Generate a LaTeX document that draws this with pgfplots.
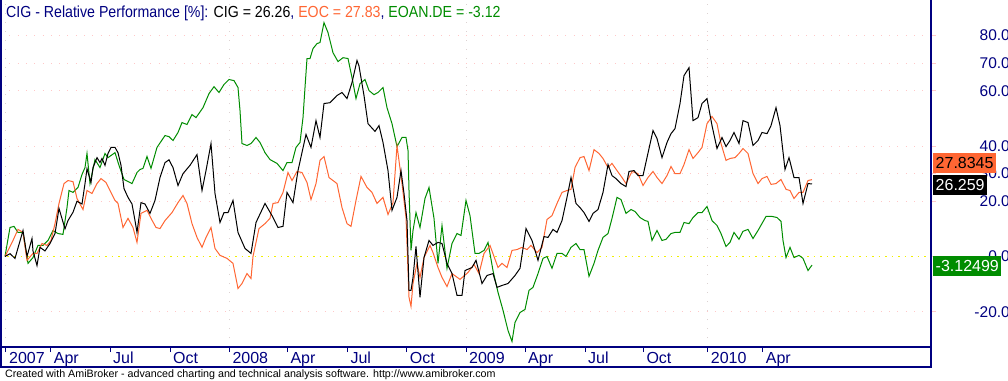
\documentclass[border=0pt]{standalone}
\usepackage{fontspec}
\setmainfont{Liberation Sans}
\newfontfamily\titlefont[FakeStretch=0.885]{Liberation Sans}
\usepackage{pgfplots}
\usepackage{pgfplotstable}
\pgfplotsset{compat=1.18}
\definecolor{navy}{RGB}{0,0,128}
\definecolor{eoc}{RGB}{255,102,51}
\definecolor{eoan}{RGB}{0,140,0}
\definecolor{gridpink}{RGB}{255,200,200}
\definecolor{gridgray}{RGB}{220,210,210}
\definecolor{zeroyellow}{RGB}{240,240,0}

% x = chart position (pixel column), y = relative performance [%]
\pgfplotstableread{
x y
5 0
10 1
15 -0.7
23 9.4
27 0
32 6.5
33 2
37 -3.3
40 3.3
45 2
50 4.7
55 8.3
59 17.4
65 10
68 13
73 16
77 20
82 19
85 26.4
87 31.8
91 26.8
93 32.2
97 35.8
100 34
102 35.5
105 33
108 37.3
111 39.5
115 39.5
118 37.6
121 33
124 24.6
128 21.4
132 19
135 13
137 8.7
141 19.5
145 19
150 15.6
155 20.3
160 28.6
165 34
169 35
173 32.2
178 25.7
183 30
190 33
197 36.9
202 23.9
206 31.1
211 40.9
215 22.8
220 12.3
224 15.9
228 15.9
233 20.3
238 8.7
245 2.9
251 1.1
256 12.3
265 19.2
272 14.8
278 10.5
283 10.9
287 23.2
293 19.5
298 31.1
306 44.2
311 39.5
316 49.2
320 43.1
324 55.4
330 55.7
337 58.3
342 59.4
347 57.2
352 63
357 71
359 69
364 58.3
368 48.1
375 45.3
379 47.4
383 41.3
388 31.1
392 16.7
397 21.4
401 31.1
404 22.8
407 13
409 -12.3
411 -12.3
413 -7.6
416 3.6
420 -14.8
424 -0.4
429 5.8
433 4
438 5.1
442 4.7
447 -2.5
452 -6.2
457 -14.1
462 -14.1
465 -5.1
472 -4
476 -1.4
482 -9.8
487 -6.9
493 -6.2
497 -11.2
502 -10.5
508 -9.8
515 -6.9
520 -4.3
526 10.1
532 5.8
538 -1.4
544 7.2
548 6.9
553 9.8
557 8.7
562 13
567 21.4
571 28.6
576 19.2
580 17.7
584 15.9
589 12.7
593 15.6
598 17
603 23.2
608 33.3
612 29.3
616 28.2
621 26.4
626 25.3
629 30.8
634 31.1
638 29.3
643 29.3
647 35.8
653 45.6
657 42.7
662 35.8
667 41.3
671 44.5
675 46.3
680 55.4
684 65.5
689 68.4
693 49.2
698 50.3
702 55.4
707 57.2
712 47.4
717 39.1
722 43.1
726 39.8
730 42
734 44.9
739 40.9
743 49.2
748 48.5
753 40.2
758 42
762 44.9
767 44.5
771 47.4
776 53.9
780 47.4
785 31.5
789 35.8
794 28.6
799 28.6
803 19.2
808 26.4
812 26.26
}\cig

\pgfplotstableread{
x y
5 0
13 5.8
18 9.8
23 8.7
27 -1.4
33 1.1
37 1.1
42 4.7
47 4
51 5.8
55 11.9
59 19.2
64 26.4
68 27.5
73 27.1
77 21
83 17
87 23.9
92 22.8
97 26.4
101 28.2
106 26.8
110 23.9
115 20.3
118 19.2
123 10.5
128 13.8
133 10.5
137 5.1
141 15.6
147 16.7
151 13.8
156 10.5
160 10.1
165 13
172 15.9
178 19.5
183 22.1
187 19.2
192 11.9
197 6.9
202 3.3
206 6.9
211 10.5
215 2.9
220 0.4
227 -0.7
233 -2.5
238 -11.6
242 -9.8
247 -6.2
251 -8
253 0
259 10.1
265 11.9
270 13.8
273 19.2
278 19.5
283 23.2
288 30.4
292 27.5
297 30.8
302 30.4
307 26.8
311 20.6
316 26.4
320 34.8
324 36.2
329 28.6
337 26.4
342 17.7
347 11.9
351 10.9
356 20.3
361 29
367 25
372 23.2
377 19.2
383 21.4
388 15.2
393 19.5
397 40.2
402 26.4
406 14.1
409 -14.8
411 -18.1
413 -9.8
417 -2.5
420 -7.6
424 -0.4
430 4
433 1.4
438 -4
442 -7.6
447 -10.9
452 -6.2
460 -8.3
468 -5.8
474 -2.9
479 -6.2
484 1.1
490 4
498 -4
502 -2.5
507 -4
512 2.2
517 2.5
522 3.3
527 2.5
531 4
537 1.4
542 3.3
547 13.4
552 14.8
557 19.2
562 23.2
567 23.9
571 24.3
575 32.2
580 35.8
584 36.2
589 31.1
594 38.7
599 37.3
603 35.5
608 32.2
612 33.7
617 31.1
622 28.6
626 26.4
632 30.8
638 30
643 25.7
648 28.6
653 30.8
657 28.6
662 26.4
667 29.3
671 32.6
675 30
680 30
684 33.3
689 38.7
693 35.5
698 37.6
702 39.5
707 48.1
712 50.7
717 48.1
721 40.9
726 34.8
730 35.5
735 35.8
739 37.3
743 39.1
748 37.3
753 30
758 26.4
762 28.2
767 29
771 26.1
776 26.4
781 27.9
786 24.3
790 23.9
794 21
799 23.2
803 23.2
808 27.5
812 27.83
}\eoctab

\pgfplotstableread{
x y
5 0
10 10.5
14 10.9
18 8.7
23 8.7
28 -2.5
33 -0.4
38 4
43 4
48 5.8
53 9.4
58 8.3
63 8
67 17.7
69 23.9
73 23.2
78 25
82 29.7
85 32.2
87 37.3
90 26.4
95 35.1
100 32.2
105 37.3
108 35.8
115 37.6
119 33
124 27.9
132 26.4
137 30.4
140 31.5
143 31.9
147 36.2
151 31.9
157 39.5
165 43.8
169 43.4
173 42
178 44.9
182 48.5
187 47.8
192 51.4
196 50.3
203 53.9
209 59
214 61.5
219 59.4
224 62.3
229 64.1
234 63.7
238 61.2
240 52.9
242 40.9
247 40.2
251 40.9
256 43.1
260 41.3
265 37.6
270 35.1
277 33.7
283 31.1
287 34
292 34
296 39.5
300 41.3
303 50.3
305 61.2
307 71.7
310 71.7
313 75.3
317 77.1
320 77.5
324 84.7
328 81.1
333 73.8
338 70.6
343 72
348 71.7
352 64.8
356 57.2
360 62.6
365 64.1
369 60.1
374 58.6
378 59.4
383 61.2
387 53.9
392 48.1
397 39.8
402 43.1
406 43.1
408 38.4
409 23.9
411 2.2
413 9.4
416 15.9
420 10.5
425 21
429 25
434 13.8
438 -2.5
442 11.2
447 -4.3
452 4.7
457 8.3
461 7.6
466 20.3
470 14.8
475 1.1
479 1.1
484 2.2
488 5.1
493 -5.1
498 -13
503 -19.5
508 -26.8
512 -30.8
515 -23.9
520 -20.3
525 -19.2
529 -12.3
533 -11.2
538 -6.2
543 -0.7
547 0
552 -4.3
557 1.1
562 1.1
566 0
571 3.3
576 4.7
580 2.5
584 2.5
589 -7.2
594 -2.5
598 2.2
603 6.9
608 8.3
612 13.8
617 21.4
621 20.6
626 15.6
631 17
635 16.3
640 14.1
645 13
648 12.7
652 5.8
657 9.4
662 5.8
666 6.2
671 8.3
675 8.7
680 8.7
684 12.3
689 11.9
693 14.1
698 15.9
702 15.9
707 18.1
712 13
717 11.2
721 8.3
726 3.6
730 5.1
734 8.7
739 6.2
743 9.1
748 9.8
753 6.5
758 9.4
766 14.5
772 14.5
777 14.1
781 12.7
783 5.8
786 -0.4
790 3.3
794 -0.4
799 0.4
803 -0.7
808 -5.1
812 -3.12
}\eoantab

\begin{document}
\begin{tikzpicture}[x=1pt,y=1pt]
\path[use as bounding box] (0,0) rectangle (1008,380);
\begin{axis}[
  at={(1pt,33pt)}, anchor=south west,
  scale only axis, width=930pt, height=347pt,
  xmin=1, xmax=931, ymin=-32.8, ymax=92.9,
  clip=false,
  axis line style={draw=none},
  tick align=outside,
  major tick length=5pt,
  xtick pos=lower, xticklabel pos=lower,
  ytick pos=right, yticklabel pos=right,
  xtick={50.7,110,170,287.3,347.3,406.7,525,585,643.3,762.7},
  xticklabels={Apr,Jul,Oct,Apr,Jul,Oct,Apr,Jul,Oct,Apr},
  extra x ticks={6,229.3,466,707.7},
  extra x tick labels={2007,2008,2009,2010},
  extra x tick style={grid=major, major grid style={gridgray, line width=1pt, dash pattern=on 1pt off 8pt}},
  x tick style={navy, line width=1pt},
  xticklabel style={anchor=base west, inner sep=0pt, xshift=3pt, yshift=-11pt,
     font=\fontsize{16}{16}\selectfont, text=navy},
  ytick={-20,20,30,40,60,70,80},
  yticklabels={-20.0,20.0,30.0,40.0,60.0,70.0,80.0},
  extra y ticks={0}, extra y tick labels={0.0},
  extra y tick style={grid=none},
  ymajorgrids=true,
  y grid style={gridpink, line width=1pt, dash pattern=on 1pt off 7.3pt},
  y tick style={gridpink, line width=1pt},
  yticklabel style={anchor=east, inner sep=0pt, xshift=74pt,
     font=\fontsize{15.5}{15.5}\selectfont, text=navy},
]
\draw[zeroyellow, line width=1pt, dash pattern=on 1.5pt off 5pt] (axis cs:1,0) -- (axis cs:931,0);
\addplot[eoan, line width=1pt] table[x=x,y=y] {\eoantab};
\addplot[eoc, line width=1pt] table[x=x,y=y] {\eoctab};
\addplot[black, line width=1pt] table[x=x,y=y] {\cig};
\coordinate (tagEOC) at (axis cs:933,33.87);
\coordinate (tagCIG) at (axis cs:933,25.9);
\coordinate (tagEOAN) at (axis cs:933,-3.44);
\end{axis}
% frame
\draw[navy, line width=1.2pt] (1,380) -- (1,13) -- (931,13) -- (931,380);
\draw[navy, line width=1.2pt] (1,33) -- (931,33);
% value tags
\tikzset{tag/.style={anchor=west, inner xsep=2.5pt, inner ysep=0pt, minimum height=20pt,
  text height=11.5pt, text depth=0pt, font=\fontsize{16}{16}\selectfont}}
\node[tag, fill=eoc, text=black] at (tagEOC) {27.8345};
\node[tag, fill=black, text=white] at (tagCIG) {26.259};
\node[tag, fill=eoan, text=white] at (tagEOAN) {-3.12499};
% title
\node[anchor=base west, inner sep=0pt, font=\titlefont\fontsize{16}{16}\selectfont] at (6,362)
 {\textcolor{navy}{CIG - Relative Performance [\%]: }\textcolor{black}{CIG = 26.26}\textcolor{navy}{, }\textcolor{eoc}{EOC = 27.83}\textcolor{navy}{, }\textcolor{eoan}{EOAN.DE = -3.12}};
% footer
\node[anchor=base west, inner sep=0pt, font=\fontsize{10.7}{10.7}\selectfont] at (5,2.5)
 {Created with AmiBroker - advanced charting and technical analysis software. http://www.amibroker.com};
\end{tikzpicture}
\end{document}
